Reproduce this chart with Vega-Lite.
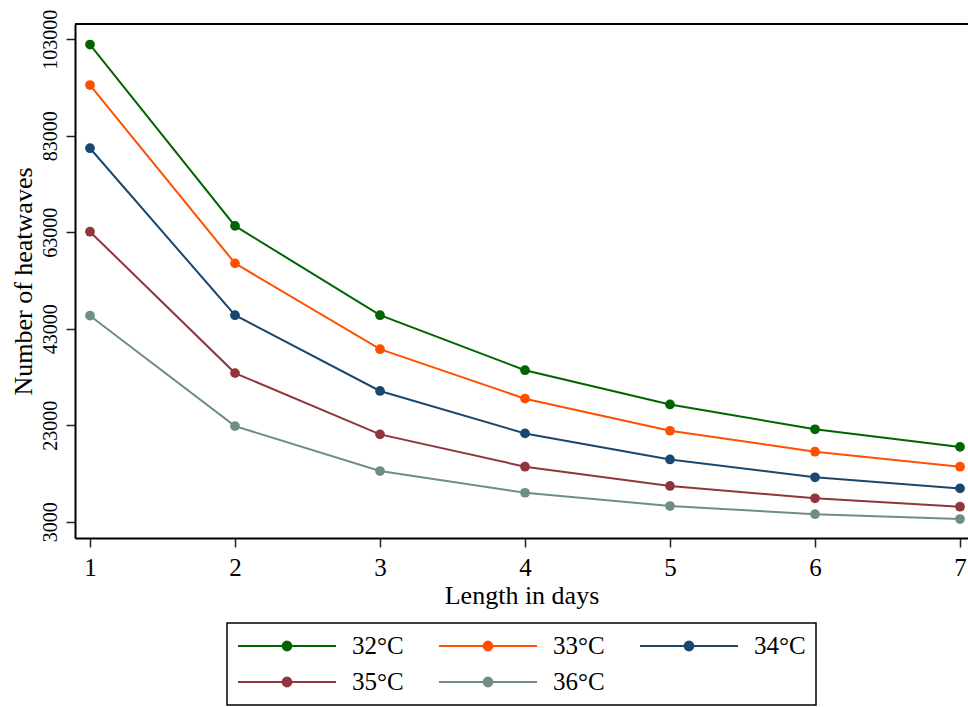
{
  "$schema": "https://vega.github.io/schema/vega-lite/v6.json",
  "width": 893,
  "height": 514,
  "autosize": {"type": "none"},
  "padding": {"left": 75, "top": 24, "right": 0, "bottom": 169},
  "background": "white",
  "config": {
    "font": "Liberation Serif",
    "view": {"stroke": null},
    "legend": {"strokeWidth": 1.5}
  },
  "data": {
    "values": [
      {"len": 1, "temp": "32°C", "n": 101900},
      {"len": 2, "temp": "32°C", "n": 64300},
      {"len": 3, "temp": "32°C", "n": 45800},
      {"len": 4, "temp": "32°C", "n": 34400},
      {"len": 5, "temp": "32°C", "n": 27300},
      {"len": 6, "temp": "32°C", "n": 22150},
      {"len": 7, "temp": "32°C", "n": 18500},
      {"len": 1, "temp": "33°C", "n": 93500},
      {"len": 2, "temp": "33°C", "n": 56550},
      {"len": 3, "temp": "33°C", "n": 38750},
      {"len": 4, "temp": "33°C", "n": 28500},
      {"len": 5, "temp": "33°C", "n": 21850},
      {"len": 6, "temp": "33°C", "n": 17500},
      {"len": 7, "temp": "33°C", "n": 14400},
      {"len": 1, "temp": "34°C", "n": 80400},
      {"len": 2, "temp": "34°C", "n": 45800},
      {"len": 3, "temp": "34°C", "n": 30100},
      {"len": 4, "temp": "34°C", "n": 21300},
      {"len": 5, "temp": "34°C", "n": 15900},
      {"len": 6, "temp": "34°C", "n": 12200},
      {"len": 7, "temp": "34°C", "n": 9900},
      {"len": 1, "temp": "35°C", "n": 63100},
      {"len": 2, "temp": "35°C", "n": 33800},
      {"len": 3, "temp": "35°C", "n": 21100},
      {"len": 4, "temp": "35°C", "n": 14400},
      {"len": 5, "temp": "35°C", "n": 10400},
      {"len": 6, "temp": "35°C", "n": 7850},
      {"len": 7, "temp": "35°C", "n": 6100},
      {"len": 1, "temp": "36°C", "n": 45700},
      {"len": 2, "temp": "36°C", "n": 22800},
      {"len": 3, "temp": "36°C", "n": 13500},
      {"len": 4, "temp": "36°C", "n": 9000},
      {"len": 5, "temp": "36°C", "n": 6250},
      {"len": 6, "temp": "36°C", "n": 4550},
      {"len": 7, "temp": "36°C", "n": 3550}
    ]
  },
  "layer": [
    {
      "mark": {"type": "rule", "color": "black", "strokeWidth": 2},
      "encoding": {"y": {"datum": 106150, "type": "quantitative", "scale": {"domain": [-378, 106150], "nice": false, "zero": false}}}
    },
    {
      "mark": {"type": "line", "strokeWidth": 2, "point": {"filled": true, "size": 95, "opacity": 1}},
      "encoding": {
        "x": {
          "field": "len", "type": "quantitative",
          "scale": {"domain": [0.8966, 7.055], "nice": false, "zero": false},
          "axis": {
            "title": "Length in days",
            "values": [1, 2, 3, 4, 5, 6, 7],
            "format": "d",
            "grid": false,
            "domainColor": "black", "domainWidth": 2,
            "tickColor": "#222", "tickWidth": 1.5, "tickSize": 9,
            "labelFontSize": 25, "labelColor": "black", "labelPadding": 8,
            "titleFontSize": 26, "titleFontWeight": "normal", "titleColor": "black", "titlePadding": 2
          }
        },
        "y": {
          "field": "n", "type": "quantitative",
          "scale": {"domain": [-378, 106150], "nice": false, "zero": false},
          "axis": {
            "title": "Number of heatwaves",
            "values": [3000, 23000, 43000, 63000, 83000, 103000],
            "format": "d",
            "grid": false,
            "domainColor": "black", "domainWidth": 2,
            "tickColor": "#222", "tickWidth": 1.5, "tickSize": 9,
            "labelFontSize": 20, "labelColor": "black", "labelPadding": 6,
            "labelAngle": 270, "labelAlign": "center", "labelBaseline": "bottom",
            "titleFontSize": 26, "titleFontWeight": "normal", "titleColor": "black", "titlePadding": 4
          }
        },
        "color": {
          "field": "temp", "type": "nominal",
          "scale": {"domain": ["32°C", "33°C", "34°C", "35°C", "36°C"], "range": ["#006400", "#ff4f00", "#1a476f", "#90353b", "#6e8e84"]},
          "legend": {
            "title": null,
            "orient": "none",
            "legendX": 152,
            "legendY": 599,
            "direction": "horizontal",
            "columns": 3,
            "symbolType": "M-1,0L1,0M-0.09,0A0.09,0.09,0,1,1,0.09,0A0.09,0.09,0,1,1,-0.09,0Z",
            "symbolSize": 9604,
            "symbolStrokeWidth": 2,
            "clipHeight": 26,
            "rowPadding": 10,
            "columnPadding": 34,
            "labelOffset": 15,
            "labelFontSize": 25,
            "labelColor": "black",
            "padding": 10,
            "strokeColor": "black",
            "encode": {
              "symbols": {
                "update": {
                  "fill": {"scale": "color", "field": "value"},
                  "stroke": {"scale": "color", "field": "value"},
                  "strokeWidth": {"value": 2},
                  "opacity": {"value": 1}
                }
              }
            }
          }
        }
      }
    }
  ]
}
